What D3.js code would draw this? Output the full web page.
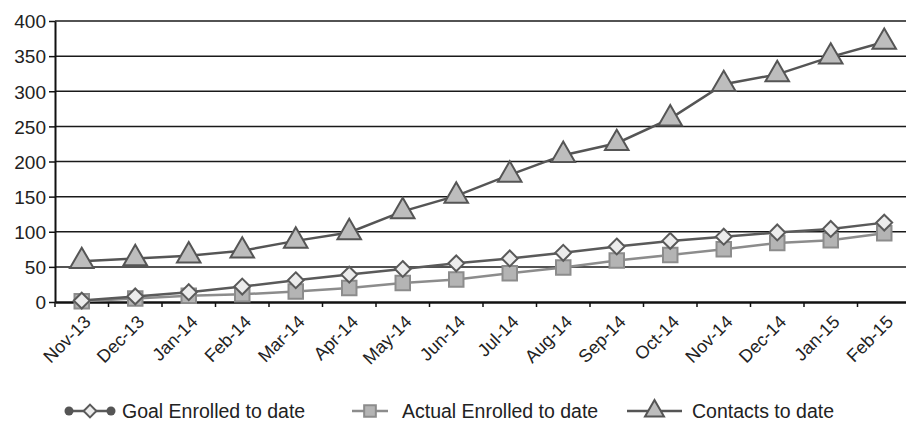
<!DOCTYPE html>
<html>
<head>
	<title>enrollment</title>
	<script src="https://cdnjs.cloudflare.com/ajax/libs/d3/7.8.5/d3.min.js"></script>
	<style>
		body { margin:0; background:#fff; }
		text { font-family: "Liberation Sans", Arial, sans-serif; fill:#222; }
	</style>
</head>
<body>
	<svg id="chart" width="906" height="422"></svg>
	<script type="text/javascript">

		var months = ["Nov-13","Dec-13","Jan-14","Feb-14","Mar-14","Apr-14","May-14","Jun-14",
			"Jul-14","Aug-14","Sep-14","Oct-14","Nov-14","Dec-14","Jan-15","Feb-15"];
		var goalEnrolled = [2,8,14,22,31,39,47,55,62,70,79,87,93,99,104,113];
		var actualEnrolled = [1,5,9,11,15,20,27,32,41,49,59,67,75,84,88,98];
		var contacts = [58,62,66,73,87,99,129,151,181,209,226,261,310,324,349,370];
		var yTicks = [0,50,100,150,200,250,300,350,400];

		var svg = d3.select("#chart");
		var x = d3.scaleBand().domain(months).range([55, 911]);
		var y = d3.scaleLinear().domain([0,400]).range([302, 21]);

		// gridlines
		svg.append("g").selectAll("line")
			.data(yTicks.slice(1))
			.enter().append("line")
			.attr("x1", 55).attr("x2", 906)
			.attr("y1", function(d) {return y(d)}).attr("y2", function(d) {return y(d)})
			.style("stroke", "#1a1a1a").style("stroke-width", "1.5px");

		var yAxis = svg.append("g")
			.attr("transform", "translate(55,0)")
			.call(d3.axisLeft(y).tickValues(yTicks).tickSize(6).tickSizeOuter(0));
		yAxis.select(".domain").style("stroke", "#111").style("stroke-width", "2px");
		yAxis.selectAll(".tick line").style("stroke", "#111").style("stroke-width", "1.5px");
		yAxis.selectAll("text").style("font-size", "19px").attr("x", -9).attr("dy", "0.36em");

		var xAxis = svg.append("g")
			.attr("transform", "translate(0," + y(0) + ")")
			.call(d3.axisBottom(x).tickSize(0).tickSizeOuter(0));
		xAxis.select(".domain").style("stroke", "#111").style("stroke-width", "2.5px");
		xAxis.selectAll(".tick text")
			.style("font-size", "18px")
			.attr("text-anchor", "end")
			.attr("y", 0).attr("dy", 0)
			.attr("transform", "translate(10,21) rotate(-45)");
		// ticks between categories
		xAxis.append("g").selectAll("line")
			.data(months)
			.enter().append("line")
			.attr("x1", function(d) {return x(d)}).attr("x2", function(d) {return x(d)})
			.attr("y1", 0).attr("y2", 5)
			.style("stroke", "#111").style("stroke-width", "1.5px");

		var cx = function(d,i) {return x(months[i]) + x.bandwidth()/2};
		var line = d3.line().x(cx).y(function(d) {return y(d)});

		var series = [
			{name:"Goal Enrolled to date", values:goalEnrolled, line:"#5a5a5a", fill:"#ececec", stroke:"#5a5a5a", sym:d3.symbolDiamond2, size:160},
			{name:"Actual Enrolled to date", values:actualEnrolled, line:"#8c8c8c", fill:"#b4b4b4", stroke:"#8c8c8c", sym:d3.symbolSquare, size:210},
			{name:"Contacts to date", values:contacts, line:"#555", fill:"#bdbdbd", stroke:"#555", sym:d3.symbolTriangle, size:240}
		];
		var drawOrder = [1,0,2];

		drawOrder.forEach(function(k) {
			var s = series[k];
			svg.append("path").datum(s.values)
				.attr("d", line)
				.style("fill", "none").style("stroke", s.line).style("stroke-width", "2.5px");
			svg.append("g").selectAll("path")
				.data(s.values)
				.enter().append("path")
				.attr("d", d3.symbol().type(s.sym).size(s.size))
				.attr("transform", function(d,i) {return "translate(" + cx(d,i) + "," + y(d) + ")"})
				.style("fill", s.fill).style("stroke", s.stroke).style("stroke-width", "2px");
		});

		// legend
		var legendX = [67, 352, 627];
		var legendW = [46, 36, 55];
		var legendT = [122, 402, 692];
		var legend = svg.append("g");
		series.forEach(function(s, i) {
			var g = legend.append("g").attr("transform", "translate(" + legendX[i] + ",411)");
			g.append("line").attr("x1", 0).attr("x2", legendW[i])
				.style("stroke", s.line).style("stroke-width", "2.5px");
			if (i == 0) {
				g.selectAll("circle").data([2,44]).enter().append("circle")
					.attr("cx", function(d) {return d}).attr("r", 4.5).style("fill", "#555");
			}
			g.append("path")
				.attr("d", d3.symbol().type(s.sym).size(s.size * 0.65))
				.attr("transform", "translate(" + legendW[i]/2 + ",0)")
				.style("fill", s.fill).style("stroke", s.stroke).style("stroke-width", "2px");
			g.append("text").attr("x", legendT[i] - legendX[i]).attr("dy", "0.35em")
				.style("font-size", "19.5px").text(s.name);
		});
	</script>
</body>
</html>
